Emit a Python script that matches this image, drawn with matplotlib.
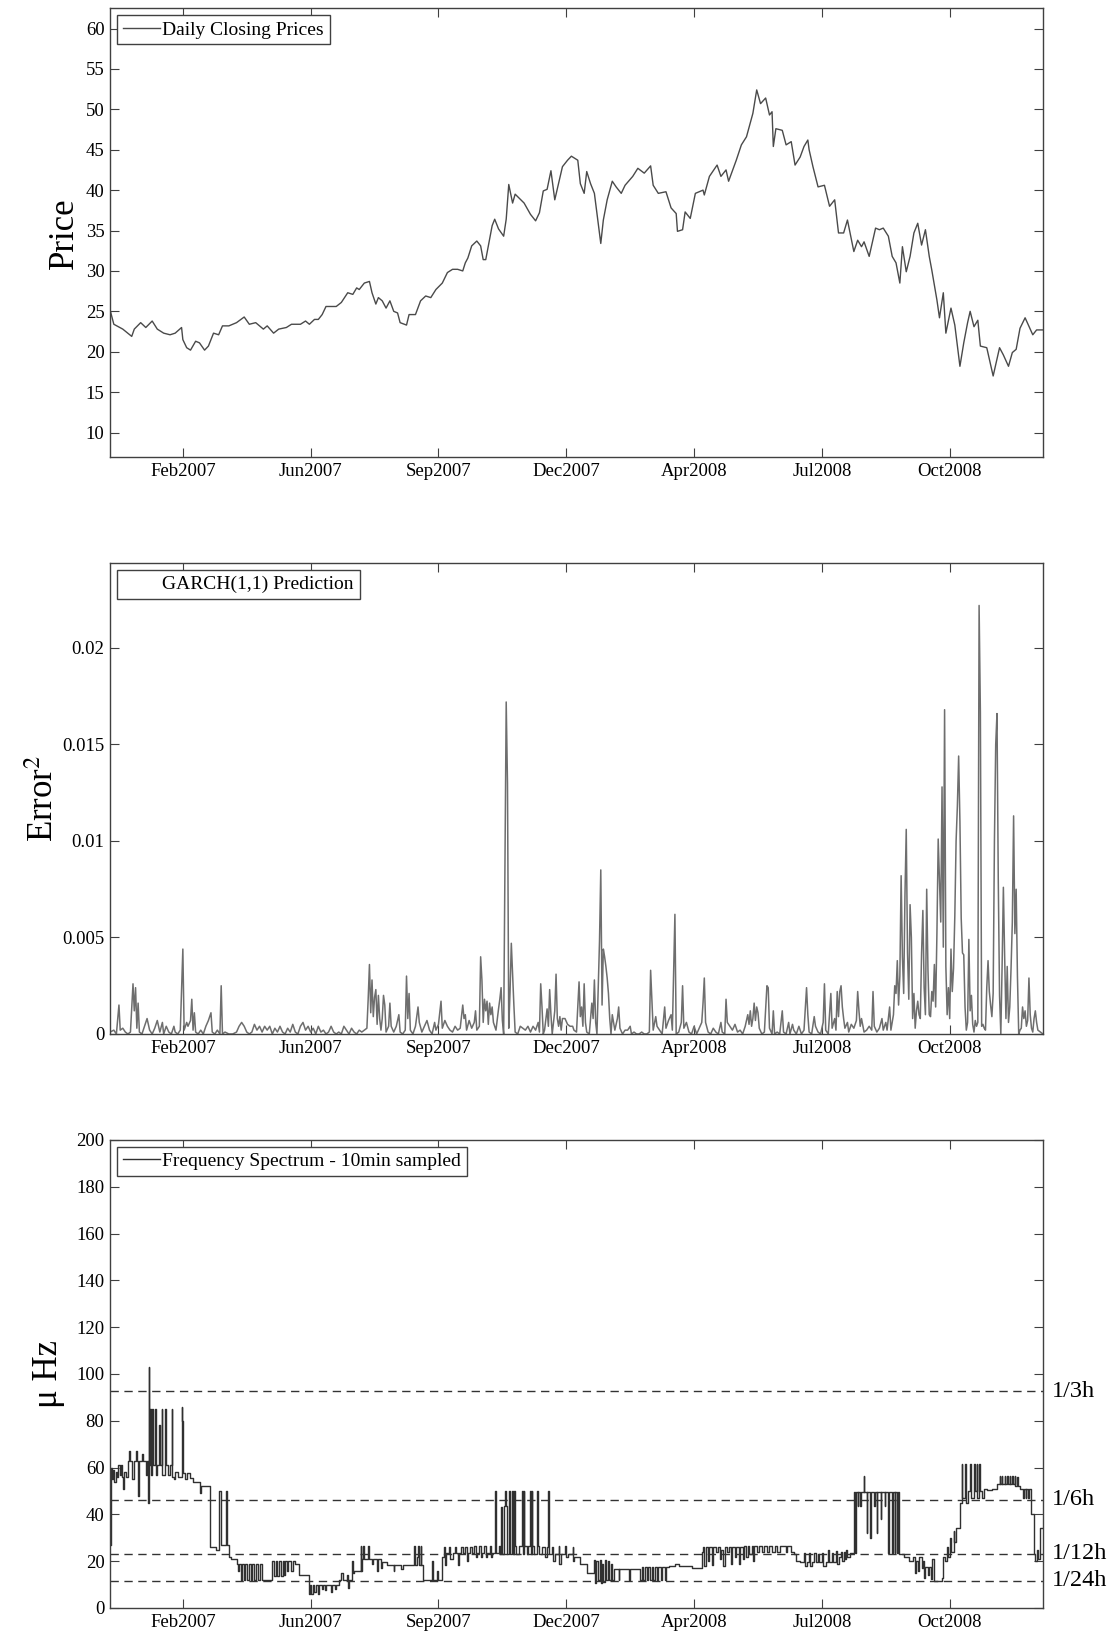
#Three panel figure: closing prices, GARCH error^2 and sampled frequency
import numpy as np
import matplotlib
matplotlib.use('Agg')
import matplotlib.pyplot as plt
import matplotlib.transforms as mtransforms
from matplotlib.lines import Line2D

plt.rcParams['font.family'] = ['Liberation Serif', 'DejaVu Serif']
plt.rcParams['mathtext.fontset'] = 'stix'

#x axis is calendar days counted from 1 Jan 2007
base = np.datetime64('2007-01-01')
tick_dates = ['2007-02-27', '2007-06-07', '2007-09-15', '2007-12-24',
              '2008-04-02', '2008-07-11', '2008-10-19']
tick_labels = ['Feb2007', 'Jun2007', 'Sep2007', 'Dec2007', 'Apr2008', 'Jul2008', 'Oct2008']
tick_days = [(np.datetime64(d) - base).astype(int) for d in tick_dates]

price_day = [0, 3, 10, 17, 19, 24, 28, 33, 37, 42, 47, 51, 56, 57, 60, 63, 67, 70, 74, 77,
             81, 85, 88, 93, 99, 105, 109, 114, 120, 123, 128, 132, 138, 142, 149, 153, 156, 160, 163, 166,
             169, 173, 177, 181, 186, 190, 193, 195, 199, 203, 205, 208, 210, 213, 216, 219, 222, 225, 227, 232,
             234, 239, 243, 247, 251, 255, 260, 264, 268, 272, 276, 278, 280, 283, 287, 290, 292, 294, 299, 301,
             304, 308, 310, 312, 315, 317, 324, 329, 333, 336, 339, 342, 345, 348, 354, 358, 361, 366, 368, 371,
             373, 376, 379, 382, 384, 386, 389, 393, 396, 400, 403, 409, 413, 418, 423, 425, 429, 435, 439, 443,
             444, 448, 450, 454, 458, 464, 465, 469, 475, 478, 482, 484, 490, 494, 498, 503, 506, 509, 513, 516,
             518, 519, 521, 526, 529, 533, 536, 540, 543, 546, 547, 550, 554, 559, 563, 567, 570, 574, 577, 582,
             585, 588, 590, 594, 599, 602, 605, 609, 612, 615, 618, 620, 623, 626, 629, 632, 635, 638, 641, 643,
             647, 649, 652, 654, 658, 661, 665, 668, 671, 673, 676, 679, 681, 686, 691, 696, 699, 703, 706, 709,
             712, 716, 722, 725, 730]
price = [25.2, 23.4, 22.8, 21.9, 22.8, 23.6, 23.0, 23.8, 22.8, 22.3, 22.1, 22.3, 23.0, 21.5, 20.5, 20.2, 21.3, 21.1, 20.2, 20.7,
         22.3, 22.1, 23.2, 23.2, 23.6, 24.3, 23.4, 23.6, 22.8, 23.2, 22.3, 22.8, 23.0, 23.4, 23.4, 23.8, 23.4, 24.0, 24.0, 24.6,
         25.6, 25.6, 25.6, 26.1, 27.3, 27.1, 27.9, 27.7, 28.5, 28.7, 27.3, 25.9, 26.7, 26.3, 25.4, 26.3, 25.0, 24.8, 23.6, 23.3,
         24.6, 24.6, 26.3, 26.9, 26.7, 27.7, 28.5, 29.8, 30.2, 30.2, 30.0, 31.0, 31.6, 33.1, 33.7, 33.1, 31.4, 31.4, 35.6, 36.4,
         35.2, 34.3, 36.4, 40.7, 38.4, 39.5, 38.4, 37.0, 36.2, 37.2, 39.9, 40.1, 42.4, 38.8, 42.9, 43.7, 44.2, 43.7, 40.8, 39.6,
         42.3, 40.8, 39.6, 35.9, 33.4, 36.3, 38.8, 41.1, 40.4, 39.6, 40.6, 41.7, 42.7, 42.1, 43.0, 40.6, 39.6, 39.8, 37.8, 37.1,
         34.9, 35.1, 37.3, 36.5, 39.6, 40.0, 39.4, 41.7, 43.1, 41.7, 42.5, 41.1, 43.7, 45.6, 46.6, 49.5, 52.4, 50.7, 51.4, 49.3,
         49.7, 45.4, 47.6, 47.4, 45.6, 46.0, 43.1, 44.1, 45.4, 46.2, 45.0, 42.9, 40.4, 40.6, 38.0, 38.8, 34.7, 34.7, 36.3, 32.4,
         33.8, 33.0, 33.6, 31.8, 35.3, 35.1, 35.3, 34.3, 31.8, 31.0, 28.5, 33.0, 29.9, 31.8, 34.7, 35.9, 33.2, 35.1, 31.8, 30.1,
         26.4, 24.2, 27.3, 22.3, 25.4, 23.3, 18.2, 21.1, 23.6, 25.0, 23.1, 23.9, 20.7, 20.5, 17.0, 20.5, 19.6, 18.2, 19.9, 20.3,
         22.9, 24.2, 22.1, 22.7, 22.7]

#GARCH(1,1) squared prediction error
err_day = [0, 3, 5, 7, 8, 10, 12, 14, 16, 18, 19, 20, 21, 22, 23, 25, 27, 29, 31, 33,
           35, 37, 39, 41, 42, 44, 46, 48, 50, 51, 53, 55, 57, 58, 60, 61, 63, 64, 65, 66,
           67, 69, 71, 73, 75, 77, 79, 80, 82, 84, 86, 87, 88, 90, 93, 96, 99, 101, 103, 105,
           107, 109, 111, 113, 115, 117, 119, 121, 123, 125, 127, 129, 131, 133, 135, 137, 139, 141, 143, 145,
           147, 149, 151, 153, 155, 157, 159, 161, 163, 165, 167, 169, 171, 173, 175, 177, 179, 181, 183, 185,
           187, 189, 191, 193, 195, 197, 199, 201, 202, 203, 204, 205, 206, 207, 208, 209, 210, 211, 212, 213,
           214, 215, 216, 218, 219, 220, 222, 224, 226, 227, 229, 231, 232, 233, 234, 235, 237, 239, 241, 242,
           244, 246, 248, 250, 252, 254, 255, 257, 259, 260, 262, 264, 266, 268, 270, 272, 274, 276, 277, 278,
           279, 281, 283, 285, 286, 287, 289, 290, 291, 292, 293, 294, 295, 296, 297, 298, 299, 300, 302, 304,
           305, 306, 307, 308, 309, 310, 311, 312, 313, 314, 315, 316, 317, 319, 321, 323, 325, 327, 329, 331,
           333, 335, 336, 337, 338, 339, 340, 342, 343, 344, 345, 346, 348, 349, 350, 351, 352, 353, 354, 356,
           358, 360, 362, 363, 365, 367, 368, 369, 370, 371, 372, 373, 375, 377, 378, 379, 380, 381, 383, 384,
           385, 386, 387, 388, 389, 390, 391, 392, 393, 395, 397, 398, 399, 401, 403, 405, 407, 408, 410, 412,
           414, 416, 418, 420, 422, 423, 424, 425, 427, 428, 430, 432, 434, 435, 437, 439, 440, 441, 442, 443,
           445, 447, 448, 449, 451, 453, 455, 457, 459, 461, 463, 464, 465, 466, 468, 470, 472, 474, 476, 478,
           479, 481, 482, 483, 485, 487, 489, 491, 493, 495, 497, 499, 500, 501, 502, 503, 504, 505, 506, 507,
           508, 510, 512, 514, 515, 516, 518, 519, 520, 522, 524, 526, 527, 529, 531, 532, 534, 535, 537, 539,
           541, 543, 545, 546, 547, 549, 551, 552, 554, 556, 558, 559, 560, 562, 564, 565, 567, 568, 569, 570,
           571, 572, 573, 574, 575, 577, 578, 580, 582, 584, 585, 586, 587, 588, 590, 592, 594, 596, 597, 598,
           600, 602, 604, 605, 607, 608, 610, 611, 613, 614, 615, 616, 617, 618, 619, 620, 621, 622, 623, 624,
           625, 626, 627, 628, 629, 630, 631, 632, 633, 634, 635, 636, 637, 638, 639, 640, 641, 642, 643, 644,
           645, 646, 647, 648, 649, 650, 651, 652, 653, 654, 655, 656, 657, 658, 659, 660, 661, 662, 663, 664,
           665, 666, 667, 668, 669, 670, 671, 672, 673, 674, 675, 676, 677, 678, 679, 680, 681, 682, 683, 684,
           685, 686, 687, 688, 689, 690, 691, 692, 693, 694, 695, 696, 697, 698, 699, 700, 701, 702, 703, 704,
           705, 706, 707, 708, 709, 710, 711, 712, 713, 714, 715, 716, 717, 718, 719, 720, 721, 722, 723, 724,
           725, 726, 728, 730]
err_val = [1, 2, 0, 15, 2, 3, 1, 0, 1, 26, 12, 24, 3, 16, 1, 0, 4, 8, 2, 0,
           3, 7, 1, 6, 0, 4, 1, 0, 4, 1, 0, 2, 44, 2, 6, 4, 7, 18, 2, 11,
           1, 0, 2, 0, 4, 7, 11, 1, 0, 2, 0, 25, 0, 1, 0, 0, 1, 4, 6, 4,
           1, 0, 1, 5, 2, 4, 1, 4, 2, 4, 0, 3, 1, 4, 1, 0, 3, 1, 5, 1,
           0, 4, 6, 2, 4, 1, 3, 0, 4, 1, 2, 0, 1, 4, 1, 0, 1, 0, 4, 2,
           0, 3, 1, 0, 2, 1, 2, 3, 18, 36, 11, 28, 9, 19, 23, 5, 20, 8, 2, 8,
           20, 15, 1, 4, 16, 4, 1, 4, 10, 1, 0, 2, 30, 8, 21, 2, 0, 4, 14, 6,
           1, 4, 7, 2, 0, 6, 2, 5, 17, 3, 7, 4, 2, 1, 4, 2, 3, 15, 8, 10,
           2, 7, 3, 6, 12, 2, 4, 40, 28, 6, 18, 12, 17, 5, 16, 10, 14, 6, 2, 13,
           18, 24, 7, 0, 86, 172, 130, 3, 22, 47, 31, 15, 1, 0, 4, 3, 2, 4, 1, 4,
           2, 6, 1, 26, 14, 0, 2, 13, 4, 23, 10, 0, 12, 31, 8, 4, 9, 2, 8, 8,
           5, 4, 4, 2, 1, 27, 9, 14, 4, 26, 6, 1, 0, 16, 8, 28, 6, 0, 48, 85,
           15, 44, 40, 35, 29, 21, 8, 0, 10, 2, 8, 14, 3, 0, 2, 2, 4, 0, 1, 0,
           0, 1, 0, 0, 1, 33, 18, 2, 9, 4, 2, 0, 14, 3, 7, 10, 2, 32, 62, 0,
           1, 6, 25, 3, 6, 1, 0, 4, 0, 3, 6, 16, 29, 6, 1, 0, 3, 1, 0, 6,
           1, 0, 18, 6, 4, 2, 5, 1, 2, 0, 4, 10, 5, 12, 4, 8, 16, 7, 14, 11,
           3, 0, 1, 25, 24, 3, 0, 12, 0, 1, 0, 12, 1, 0, 6, 0, 5, 2, 0, 4,
           0, 2, 24, 10, 1, 0, 9, 4, 1, 0, 6, 26, 2, 0, 21, 3, 8, 2, 22, 9,
           22, 25, 14, 8, 3, 6, 1, 5, 3, 7, 22, 12, 4, 8, 1, 2, 4, 2, 22, 4,
           1, 3, 8, 2, 6, 2, 14, 2, 10, 25, 21, 38, 15, 30, 82, 40, 21, 72, 106, 42,
           18, 67, 50, 8, 21, 3, 12, 17, 10, 8, 42, 64, 24, 10, 75, 33, 10, 9, 22, 17,
           36, 14, 52, 101, 80, 58, 128, 45, 168, 35, 10, 24, 8, 44, 22, 34, 61, 100, 118, 144,
           110, 60, 42, 41, 14, 2, 6, 49, 12, 20, 5, 1, 7, 4, 6, 222, 167, 4, 5, 3,
           2, 24, 38, 22, 15, 9, 21, 100, 150, 166, 80, 20, 0, 35, 76, 40, 8, 35, 6, 14,
           34, 58, 113, 52, 75, 30, 0, 2, 3, 14, 8, 12, 4, 7, 29, 10, 3, 1, 8, 12,
           6, 2, 1, 0]
err_val = [v * 1e-4 for v in err_val]

#Frequency spectrum (stairs, micro Hz)
freq_day = [0, 0.5, 1.5, 2.5, 3.5, 4.5, 5.5, 6.5, 7.5, 8.5, 9.5, 10.4, 11, 12.5, 14.4, 15.2, 16, 17.5, 18.5, 20,
            21, 22.2, 23, 25, 26, 28, 29, 30, 30.3, 30.6, 31.3, 31.8, 33, 33.5, 35.2, 35.8, 37, 38.5, 39, 40.5,
            41, 43.1, 43.6, 45, 47, 48.3, 48.8, 50, 51, 53, 56.1, 56.5, 57, 59, 60, 62.7, 65, 70.5, 71, 78.3,
            83, 84.9, 87, 91, 91.5, 93, 94.5, 99.2, 100, 101, 102.5, 103.5, 105, 106, 107, 108.5, 110, 111, 113, 114,
            116, 117, 119, 127, 128, 129.5, 131, 132, 134, 135, 136, 137, 138.5, 139.5, 142, 143, 145, 147.5, 155.4, 156.5,
            157.5, 159, 160, 161, 162.5, 163.5, 166, 167, 168, 169, 173, 174, 176, 177, 179, 181, 182, 185.4, 186, 187,
            189, 190, 191, 196, 196.5, 197, 198, 198.5, 202, 202.5, 205, 206, 209, 209.5, 212, 213, 217, 222, 222.5, 228,
            229, 238, 238.5, 240, 241, 241.5, 243, 243.5, 245, 252, 252.5, 256, 256.5, 260, 261, 262, 263, 265, 266, 268,
            270, 270.5, 272, 273, 275, 276, 278, 279, 280, 282, 283, 285, 286, 287, 289, 290, 291, 293, 294, 295,
            297, 298, 299, 301.6, 302, 304, 305, 306, 306.5, 308, 309.4, 310, 311, 312, 313, 314.6, 315, 316, 316.5, 318,
            320, 322.5, 323, 323.8, 324.2, 326, 327, 329, 329.5, 330, 330.5, 332, 334, 334.5, 336, 338, 340, 342, 343, 343.5,
            346, 347, 348, 351, 351.5, 353, 356, 357, 358, 362, 362.5, 363, 368, 373.4, 378.6, 379.5, 380.5, 381.5, 383, 384,
            385, 386, 387, 388, 389.5, 390.5, 392, 393, 394, 398, 398.5, 406, 406.5, 415, 416, 417, 418.5, 420, 421, 422.5,
            424, 425, 426.5, 428, 429, 431, 432, 434, 435, 437, 442, 445, 455.5, 463, 464, 465, 466, 468, 469, 471,
            472, 474, 475.5, 477, 478, 480, 481, 483, 484.5, 486, 487, 489, 490, 492, 493, 495, 496, 498, 499, 500,
            502, 503, 504, 506, 508, 510, 512, 514, 516, 518, 520, 522, 524, 529, 530, 533, 535, 537, 540, 543,
            543.5, 545, 547, 547.5, 549, 551, 552, 554, 555, 557, 558, 560, 562, 562.5, 565, 566, 568, 569, 570, 572,
            573, 574, 575, 576, 577, 579, 582, 583, 583.5, 585, 585.5, 587, 587.5, 590, 590.3, 592, 592.3, 595, 595.3, 598,
            598.3, 600, 600.3, 603, 603.3, 606, 606.3, 609, 609.5, 612, 612.5, 614, 614.5, 616, 616.5, 617.5, 621, 625, 628, 629.5,
            630.5, 632, 633, 635, 636, 637, 638, 640, 641, 642.5, 643.5, 644.5, 651, 651.5, 653, 655, 656, 657.5, 658, 660,
            660.5, 662, 665, 666.5, 667, 669, 669.5, 671, 673, 673.5, 676, 676.5, 678, 678.5, 680, 680.5, 682, 684, 686, 690,
            694, 696, 696.3, 698, 698.3, 700, 700.3, 702, 702.3, 704, 704.3, 706, 706.3, 708, 708.3, 710, 710.3, 712, 714, 715,
            716.5, 717, 718.5, 719, 721, 722.6, 723.5, 725, 726, 728, 730]
freq_val = [27, 60, 55, 59, 54, 58, 56, 61, 57, 61, 56, 51, 58, 56, 63, 67, 63, 55, 63, 67,
            63, 48, 63, 66, 63, 57, 63, 45, 103, 61, 85, 57, 85, 61, 85, 57, 61, 78, 61, 85,
            57, 85, 61, 57, 61, 85, 56, 55, 58, 56, 86, 80, 57.5, 55, 57.5, 55.5, 54, 49, 52, 26,
            25, 50, 27, 50, 27, 22, 21, 19, 15.7, 19, 12, 19, 12, 19, 12, 19, 12, 19, 12, 19,
            12, 19, 12, 20, 13.6, 20, 13.6, 20, 13.6, 20, 14, 20, 16, 20, 16, 20, 18.6, 14, 6, 10,
            6, 10, 7, 10, 6, 10, 8, 10, 7.5, 10, 7, 10, 8, 10, 12, 15, 12, 14.3, 8.6, 12,
            20, 15, 16, 26.4, 15.7, 21, 26.4, 21, 26.4, 21, 19, 21, 16, 21, 17, 19.5, 18.5, 16, 18.5, 16.5,
            18.5, 26.7, 18.5, 22, 26.7, 18.5, 26.7, 18.5, 12, 20, 12, 16, 12, 22, 26, 18.5, 23.6, 26, 21, 23.6,
            26, 23.6, 18.5, 23.6, 26, 23.6, 26, 20, 23.6, 26, 23.6, 26.5, 22, 23.6, 26.5, 22, 23.6, 26.5, 22, 23.6,
            26.5, 22, 23.6, 50, 23.6, 26.5, 23, 43, 23, 43.6, 50, 43.6, 23, 50, 23, 50, 23, 50, 26.5, 23,
            26.5, 50, 23, 50, 26.5, 23, 26.5, 50, 23, 50, 26.5, 23, 50, 26.5, 23, 26, 22, 26, 50, 23,
            26, 20, 23, 26.5, 19, 23, 26.5, 22, 23, 26, 20, 22, 19, 15, 20.7, 10.7, 20, 12, 20.7, 10.7,
            19, 11, 20.7, 12, 20, 12, 19, 12, 16.5, 12, 16.5, 12, 16.5, 12, 17.5, 12, 17.5, 12, 17.5, 12,
            17.5, 12, 17.5, 12, 17.5, 12, 17.5, 12, 17.5, 18, 19, 18, 17, 24, 26, 18, 26, 20, 26, 18.5,
            26, 24, 26, 21, 25, 18, 26, 24, 26, 19, 26, 22, 26, 19, 26, 21, 26.5, 22, 26.5, 23,
            26.5, 20, 26.5, 24, 26.5, 24, 26.5, 24, 26.5, 24, 26.5, 24, 26.5, 24, 26.5, 24, 23, 20, 19.5, 23.6,
            17.9, 19.5, 23.6, 18, 19.5, 23.6, 19.5, 23, 19.5, 23.6, 18, 19.5, 25, 19.5, 23.6, 19.5, 24.5, 19, 22, 24,
            20, 24, 21, 25, 22, 23.5, 49.6, 23.6, 49.6, 43.6, 49.6, 43.6, 49.6, 56.4, 49.6, 32, 49.6, 30, 49.6, 43.6,
            49.6, 32, 49.6, 38, 49.6, 43.6, 49.6, 23.6, 49.6, 23.6, 49.6, 23.6, 49.6, 23.6, 49.6, 23, 22, 20, 22, 15,
            20, 16, 22, 17, 20, 13, 17.5, 14, 17.5, 12.5, 21, 11.6, 13, 22, 20, 26, 22, 30, 24, 33,
            28, 34, 45, 61.7, 47, 61.7, 45, 50, 61.7, 47, 61.7, 50, 61.7, 47, 61.7, 50, 47, 51, 50.5, 51,
            53, 56.4, 53, 56.4, 53, 56.4, 53, 56.4, 53, 56.4, 53, 56.4, 53, 56.4, 52, 56, 52, 51, 47, 51,
            47, 51, 47, 51, 40, 23, 20, 25, 21, 34, 34]

#Reference period lines, 1/T in micro Hz
period_hours = [3, 6, 12, 24]
period_labels = ['1/3h', '1/6h', '1/12h', '1/24h']

W, H = 1117, 1636
fig = plt.figure(figsize=(W / 100, H / 100), dpi=100)

def make_axes(top, bottom):
    return fig.add_axes([110 / W, 1 - bottom / H, (1043 - 110) / W, (bottom - top) / H])

ax1 = make_axes(8.3, 457.2)
ax2 = make_axes(563, 1034)
ax3 = make_axes(1140, 1608)

frame = '#404040'
for ax in (ax1, ax2, ax3):
    ax.set_xlim(0, 730)
    ax.set_xticks(tick_days)
    ax.set_xticklabels(tick_labels)
    ax.tick_params(direction='in', length=6.5, width=0.8, top=True, right=True,
                   labelsize=13.5, color=frame, pad=4)
    for s in ax.spines.values():
        s.set_color(frame)
        s.set_linewidth(1.0)

legend_kw = dict(loc='upper left', fancybox=False, edgecolor=frame, framealpha=1, fontsize=14,
                 borderpad=0.3, borderaxespad=0.35, handlelength=1.9, handletextpad=0.15)

#Top panel
ax1.plot(price_day, price, color='#4a4a4a', lw=1.0, label='Daily Closing Prices')
ax1.set_ylim(6.95, 62.5)
ax1.set_yticks(range(10, 61, 5))
ax1.set_ylabel('Price', fontsize=25)
ax1.yaxis.set_label_coords(-0.031, 0.5)
leg = ax1.legend(**legend_kw)
leg.get_frame().set_linewidth(1.0)

#Middle panel
ax2.plot(err_day, err_val, color='#6e6e6e', lw=1.1)
ax2.set_ylim(0, 0.0244)
ax2.set_yticks([0, 0.005, 0.01, 0.015, 0.02])
ax2.set_yticklabels(['0', '0.005', '0.01', '0.015', '0.02'])
ax2.set_ylabel('Error$^{2}$', fontsize=25)
ax2.yaxis.set_label_coords(-0.053, 0.5)
leg = ax2.legend([Line2D([], [], color='none')], ['GARCH(1,1) Prediction'], **legend_kw)
leg.get_frame().set_linewidth(1.0)

#Bottom panel
ax3.plot(freq_day, freq_val, drawstyle='steps-post', color='#303030', lw=1.0,
         label='Frequency Spectrum - 10min sampled')
ax3.set_ylim(0, 200)
ax3.set_yticks(range(0, 201, 20))
ax3.set_ylabel('\u03bc Hz', fontsize=25)
ax3.yaxis.set_label_coords(-0.048, 0.5)
trans = mtransforms.blended_transform_factory(ax3.transAxes, ax3.transData)
for hrs, lab in zip(period_hours, period_labels):
    f = 1e6 / (hrs * 3600.0)
    ax3.axhline(f, color='#333333', lw=1.0, dashes=(6, 4))
    ax3.text(1.009, f, lab, transform=trans, ha='left', va='center', fontsize=17.5)
leg = ax3.legend(**legend_kw)
leg.get_frame().set_linewidth(1.0)

fig.savefig('out.png', dpi=100)
